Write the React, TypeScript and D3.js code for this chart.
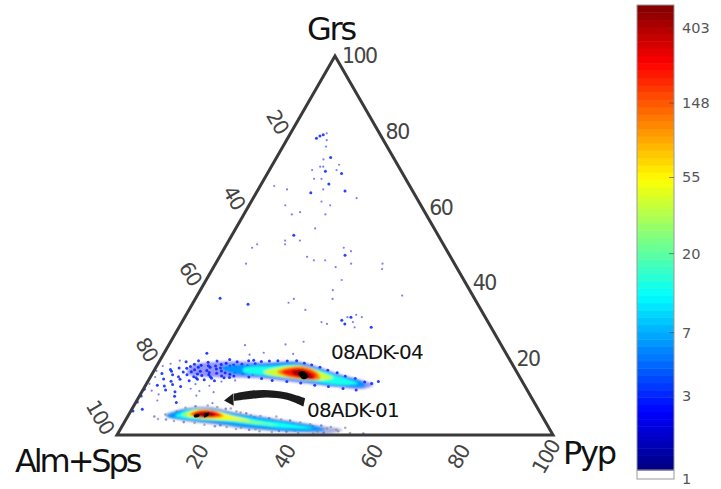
import React from 'react';
import * as d3 from 'd3';

// ternary values are [Pyp, Grs], Alm+Sps is whatever is left
const tickValues = [20, 40, 60, 80, 100];
const colorTicks = [1, 3, 7, 20, 55, 148, 403];

// isolated analyses above the two clouds [pyp, grs, count]
const scatterHigh = [
  [6.6, 78.3, 3], [7.1, 78.9, 3], [7.7, 79.2, 3], [8.3, 79.6, 2], [9.2, 77.8, 2], [9.9, 76.1, 2], [12.4, 73.2, 3], [11.0, 72.7, 2],
  [11.2, 70.8, 2], [11.9, 70.8, 2], [13.0, 69.6, 3], [9.8, 69.9, 2], [15.4, 69.9, 2], [15.3, 71.3, 2], [17.0, 69.0, 3], [11.4, 67.6, 2],
  [13.1, 67.6, 2], [15.5, 66.2, 3], [3.2, 65.7, 2], [6.6, 64.8, 2], [12.5, 63.9, 3], [14.9, 64.8, 2], [20.1, 64.4, 3], [23.7, 62.5, 2],
  [16.1, 61.6, 2], [8.3, 60.6, 2], [18.6, 60.6, 2], [12.6, 58.8, 2], [11.0, 58.2, 2], [18.7, 58.2, 2], [18.2, 54.5, 2], [14.2, 52.7, 3],
  [12.9, 51.3, 2], [13.4, 50.3, 2], [16.3, 51.3, 2], [6.3, 49.4, 2], [7.0, 50.3, 2], [7.0, 45.2, 2], [27.3, 49.4, 2], [29.4, 48.5, 2],
  [28.6, 47.4, 3], [20.1, 47.0, 2], [22.1, 46.1, 2], [24.7, 46.1, 2], [31.1, 45.2, 2], [28.0, 44.3, 2], [38.3, 45.2, 2], [38.9, 43.8, 2],
  [31.1, 40.9, 2], [30.4, 38.2, 2], [31.5, 35.9, 2], [47.0, 36.8, 2], [12.8, 34.5, 3], [21.9, 34.9, 2], [22.6, 35.9, 2], [26.7, 33.0, 2],
  [32.0, 29.8, 2], [33.5, 29.3, 2], [36.4, 30.3, 3], [37.6, 29.3, 3], [37.3, 31.1, 2], [38.1, 31.1, 3], [39.0, 31.7, 2], [40.6, 31.1, 2],
  [39.2, 29.8, 2], [40.3, 28.4, 2], [44.1, 28.4, 3], [5.6, 36.1, 3],
];

// the blue speckle round 08ADK-04, mostly its left tail
const scatterTail = [
  [17.5, 23.7, 2], [26.7, 23.9, 2], [30.5, 24.6, 2], [9.8, 21.6, 3], [19.8, 21.2, 2], [22.8, 21.7, 2], [29.7, 21.4, 2],
  [4.6, 19.6, 2], [6.2, 19.3, 3], [7.8, 18.1, 3], [8.9, 19.6, 3], [10.1, 18.4, 3], [11.3, 19.2, 3], [12.4, 17.9, 3], [13.2, 19.5, 3], [14.6, 18.6, 3],
  [15.9, 19.9, 3], [16.8, 18.2, 3], [17.9, 19.3, 3], [19.3, 18.7, 3], [20.4, 19.6, 3], [9.2, 17.2, 3], [10.7, 16.8, 3], [12.9, 16.5, 3], [14.1, 17.4, 3],
  [15.5, 16.9, 3], [17.3, 17.3, 3], [18.8, 16.6, 3], [20.1, 17.0, 3], [5.4, 17.7, 3], [6.9, 16.6, 3], [8.1, 15.9, 3], [11.6, 15.7, 3], [13.7, 15.4, 3],
  [16.2, 15.6, 3], [18.2, 15.2, 3], [21.5, 19.7, 3], [23.4, 19.4, 3], [25.2, 19.5, 3], [27.1, 19.6, 3], [29.3, 19.5, 3], [31.4, 19.6, 3], [33.5, 18.9, 3],
  [35.4, 18.5, 3], [37.6, 17.9, 3], [39.8, 17.1, 3], [42.3, 16.4, 3], [44.6, 15.5, 3], [47.2, 14.9, 3], [49.8, 14.0, 3], [51.6, 13.6, 3], [22.6, 15.3, 3],
  [25.7, 14.9, 3], [28.4, 14.4, 3], [31.9, 14.1, 3], [35.3, 13.7, 3], [38.8, 13.1, 3], [42.1, 12.8, 3], [45.7, 12.3, 3], [48.9, 11.9, 3], [52.9, 14.1, 3],
  [1.4, 18.2, 2], [2.9, 18.8, 2], [3.6, 17.3, 3], [0.6, 16.9, 2], [2.2, 16.2, 3], [4.8, 15.9, 3], [1.1, 15.3, 2], [3.3, 14.8, 3], [5.3, 14.2, 3], [7.1, 14.7, 3],
  [9.4, 14.3, 3], [10.6, 15.1, 3], [12.7, 14.6, 3], [15.2, 14.3, 3], [16.9, 14.1, 2], [19.9, 14.4, 2], [0.7, 13.5, 2], [2.7, 13.1, 3], [4.4, 12.9, 3], [6.1, 13.3, 3],
  [8.2, 12.8, 3], [11.3, 13.4, 2], [14.7, 13.0, 2], [0.2, 12.1, 3], [2.1, 11.7, 2], [5.2, 11.9, 3], [7.6, 11.4, 3], [10.8, 12.2, 2], [13.1, 11.6, 2], [16.5, 11.3, 2],
  [0.4, 10.3, 3], [4.2, 10.7, 2], [8.1, 10.2, 3], [13.0, 10.4, 2], [0.3, 8.7, 3], [4.7, 9.1, 2], [9.3, 8.6, 3], [17.7, 8.4, 2], [2.4, 6.8, 3], [0.5, 6.3, 3],
  [8.4, 18.7, 3], [9.7, 17.9, 3], [10.4, 16.1, 3], [11.8, 18.3, 3], [12.1, 17.0, 3], [13.5, 18.2, 3], [13.1, 15.9, 3], [14.9, 17.7, 3], [14.7, 16.3, 3], [15.6, 18.9, 3],
  [16.3, 17.6, 3], [16.6, 16.4, 3], [17.5, 18.5, 3], [17.9, 16.0, 3], [18.3, 17.9, 3], [19.0, 15.6, 3], [19.6, 17.8, 3], [20.8, 18.3, 3], [20.7, 16.3, 3], [21.9, 17.4, 3],
  [22.3, 18.8, 3], [23.1, 16.1, 3], [9.9, 15.4, 3], [11.1, 14.7, 3], [7.2, 17.6, 3], [6.4, 15.4, 3], [8.7, 16.7, 3], [4.1, 16.8, 3], [14.2, 15.0, 3], [17.0, 15.1, 3],
];

// the paler speckle round 08ADK-01
const scatterHalo = [
  [6.1, 4.9], [7.3, 4.2], [8.4, 5.4], [9.2, 4.1], [10.6, 6.2], [12.1, 7.2], [14.2, 7.6], [16.9, 7.8], [19.3, 7.4], [21.5, 6.9], [22.6, 7.0], [24.3, 6.2], [26.8, 5.7], [28.1, 5.2],
  [30.4, 5.0], [32.7, 4.4], [34.1, 4.9], [35.6, 4.1], [37.8, 3.8], [40.4, 3.3], [42.9, 2.8], [45.6, 2.5], [48.0, 2.1], [11.2, 3.7], [13.6, 3.4], [16.2, 3.2], [18.7, 2.7], [21.3, 2.3],
  [24.1, 2.1], [26.5, 1.6], [29.6, 1.4], [32.2, 1.0], [35.1, 0.8], [38.4, 0.9], [41.3, 0.5], [44.8, 0.4], [47.1, 0.6], [50.2, 1.0], [53.2, 0.5], [56.3, 0.4], [51.4, 1.9],
  [25.4, 5.9], [29.2, 4.6], [33.8, 3.7], [38.9, 3.1], [43.7, 2.3], [47.3, 1.7], [49.6, 1.4], [22.4, 2.6], [27.5, 1.9], [31.0, 1.5], [36.6, 1.1], [40.2, 1.2], [45.5, 0.9],
];

// density contours of the two analysed samples, lowest count first
const upperRim = [[8.0, 18.2], [14.0, 19.3], [24.9, 19.2], [31.7, 19.4], [36.8, 18.1], [43.2, 16.0], [49.4, 14.3], [52.2, 13.3], [50.5, 12.2], [44.8, 12.6], [38.2, 13.4], [31.7, 14.2], [25.1, 15.0], [18.8, 15.2], [12.4, 15.4], [8.0, 16.2]];
const upperOuter = [[15.0, 17.8], [24.9, 18.7], [31.7, 19.0], [36.8, 17.7], [43.2, 15.6], [49.4, 13.9], [50.5, 12.9], [44.8, 12.9], [38.2, 13.8], [31.7, 14.7], [25.1, 15.6], [18.8, 16.2]];
const upperCyan = [[20.2, 17.6], [26.8, 18.2], [32.7, 18.5], [38.0, 17.1], [43.4, 15.4], [48.5, 13.6], [44.5, 13.2], [38.0, 14.1], [31.4, 15.0], [24.9, 15.8], [20.6, 16.7]];
const upperGreen = [[25.2, 16.7], [28.4, 17.9], [33.6, 18.2], [38.2, 16.7], [42.1, 15.0], [37.8, 14.5], [32.2, 15.0], [27.2, 15.8]];
const upperOrange = [[28.3, 16.7], [30.7, 17.9], [34.6, 17.9], [38.0, 16.3], [39.2, 14.7], [35.4, 14.7], [31.2, 15.4]];
const upperRed = [[29.4, 16.7], [31.6, 17.6], [34.9, 17.3], [37.9, 15.8], [37.7, 14.7], [34.4, 15.1], [31.0, 15.8]];
const upperDark = [[31.7, 16.7], [33.3, 17.3], [36.1, 16.3], [37.5, 15.0], [35.2, 15.0], [32.9, 15.8]];
const upperCore = [[33.4, 16.4], [34.2, 16.9], [36.2, 15.4], [35.4, 14.7], [34.3, 15.4]];

const lowerRim = [[8.4, 5.2], [11.9, 7.0], [17.8, 7.4], [23.8, 6.1], [29.7, 5.1], [37.2, 3.9], [44.7, 2.6], [51.0, 1.4], [48.7, 0.4], [43.1, 0.6], [35.2, 1.0], [28.0, 1.7], [20.5, 2.8], [14.0, 3.6]];
const lowerOuter = [[8.9, 5.0], [11.9, 6.6], [17.8, 7.0], [23.8, 5.7], [29.7, 4.7], [37.2, 3.5], [44.7, 2.2], [47.0, 1.4], [43.1, 1.0], [35.2, 1.4], [28.0, 2.1], [20.5, 3.2], [14.0, 4.0]];
const lowerCyan = [[10.8, 5.0], [13.1, 6.6], [17.9, 6.8], [24.0, 5.3], [30.8, 4.0], [38.2, 2.9], [44.1, 1.8], [38.0, 1.8], [30.7, 2.6], [23.4, 3.5], [17.0, 4.0], [13.0, 4.4]];
const lowerGreen = [[12.2, 5.3], [14.2, 6.6], [18.4, 6.6], [24.2, 5.0], [30.3, 3.5], [36.1, 2.5], [30.6, 2.9], [23.3, 3.8], [16.9, 4.3]];
const lowerYellow = [[13.5, 5.3], [14.6, 6.6], [18.8, 6.5], [23.8, 5.0], [28.6, 3.8], [24.3, 4.0], [18.4, 4.3]];
const lowerOrange = [[14.0, 5.5], [15.7, 6.6], [19.3, 6.3], [21.9, 5.0], [19.1, 4.5], [16.0, 4.7]];
const lowerRed = [[14.5, 5.5], [16.2, 6.4], [19.4, 6.2], [21.1, 5.1], [18.6, 4.7], [15.9, 4.8]];
const lowerDark = [[15.1, 5.5], [16.8, 6.1], [19.2, 5.7], [20.0, 5.0], [17.8, 4.8], [15.8, 5.0]];
const lowerCoreA = [[15.0, 5.3], [16.2, 5.4], [16.4, 4.9], [15.4, 4.7]];
const lowerCoreB = [[17.2, 5.5], [18.2, 5.9], [18.4, 5.2], [17.7, 4.6]];

const arrowTop = [[38.3, 9.7], [33.3, 11.2], [27.7, 11.9], [23.3, 11.4], [21.4, 10.9]];
const arrowBottom = [[22.3, 9.0], [25.8, 9.5], [29.4, 9.9], [34.3, 9.3], [39.0, 7.5]];
const arrowHead = [[21.2, 11.0], [20.0, 9.1], [22.9, 7.7]];

const rims = [upperRim, lowerRim];
const contours: [number[][], number][] = [
  [lowerOuter, 6], [lowerCyan, 12], [lowerGreen, 28], [lowerYellow, 55], [lowerOrange, 120], [lowerRed, 220], [lowerDark, 430],
  [upperOuter, 6], [upperCyan, 13], [upperGreen, 40], [upperOrange, 110], [upperRed, 220], [upperDark, 430],
];
const coreBlobs = [upperCore, lowerCoreA, lowerCoreB];

const W = 721;
const H = 489;
const xPos = d3.scaleLinear().domain([0, 100]).range([117, 553]);
const yPos = d3.scaleLinear().domain([0, 100]).range([435, 56]);
const px = (p: number, g: number) => xPos(p + g / 2);
const py = (g: number) => yPos(g);

const lnMax = 6.3;
const lnMin = 0.12;
const clamp = (v: number) => Math.max(0, Math.min(1, v));
// matplotlib style jet, 64 steps like the colour bar
function jet(t: number) {
  const c = (o: number) => Math.round(clamp(1.5 - Math.abs(4 * t - o)) * 255);
  return `rgb(${c(3)},${c(2)},${c(1)})`;
}
const colorT = d3.scaleLog().domain([Math.exp(lnMin), Math.exp(lnMax)]).range([0, 1]);
const barY = d3.scaleLog().domain([1, Math.exp(lnMax)]).range([479, 5]);
const bands = d3.range(64);

const blob = d3.line<number[]>().x(d => px(d[0], d[1])).y(d => py(d[1])).curve(d3.curveCatmullRomClosed.alpha(0.5));
const outline = d3.line<number[]>().x(d => px(d[0], d[1])).y(d => py(d[1])).curve(d3.curveLinearClosed);
const smooth = d3.line<number[]>().x(d => px(d[0], d[1])).y(d => py(d[1])).curve(d3.curveCatmullRom.alpha(0.5));

const tickFont = { fontFamily: '"DejaVu Sans"', fontSize: 20.5, letterSpacing: -1.5, fill: '#444' };
const titleFont = { fontFamily: '"DejaVu Sans"', fontSize: 32, letterSpacing: -2.2, fill: '#111' };
const noteFont = { fontFamily: '"DejaVu Sans"', fontSize: 20, letterSpacing: -0.8, fill: '#111' };

function Dots({ items }: { items: number[][] }) {
  return (
    <g>
      {items.map((d, i) => (
        <circle key={i} cx={px(d[0], d[1])} cy={py(d[1])} r={d[2] > 2 ? 1.5 : 1.1}
                fill={jet(colorT(d[2]))} opacity={d[2] > 2 ? 0.85 : 0.5} />
      ))}
    </g>
  );
}

export default function App() {
  const triangle = [[0, 0], [100, 0], [0, 100]];
  const barHeight = barY(Math.exp(lnMin)) - 5;
  const arrowPath = `${smooth(arrowTop)}L${(smooth(arrowBottom) || '').slice(1)}Z`;
  return (
    <svg width={W} height={H} style={{ position: 'absolute', left: 0, top: 0, background: '#fff' }}>
      <defs>
        <filter id="soft" x="-10%" y="-50%" width="120%" height="200%"><feGaussianBlur stdDeviation="1.2" /></filter>
        <filter id="tiny" x="-20%" y="-20%" width="140%" height="140%"><feGaussianBlur stdDeviation="0.4" /></filter>
      </defs>

      <g filter="url(#soft)">
        {rims.map((pts, i) => <path key={i} d={blob(pts) || ''} fill={i === 0 ? '#2a2aff' : '#5a64c8'} opacity={0.5} />)}
      </g>
      <g filter="url(#tiny)">
        <Dots items={scatterHigh} />
        <Dots items={scatterTail} />
        {scatterHalo.map((d, i) => (
          <circle key={i} cx={px(d[0], d[1])} cy={py(d[1])} r={1.3} fill={i % 3 === 0 ? '#5a64c8' : '#8d8d9d'} opacity={0.7} />
        ))}
      </g>
      <g filter="url(#soft)">
        {contours.map(([pts, count], i) => (
          <path key={i} d={blob(pts) || ''} fill={jet(colorT(count))} />
        ))}
      </g>
      <g filter="url(#tiny)">
        {coreBlobs.map((pts, i) => <path key={i} d={blob(pts) || ''} fill="#000" />)}
        <path d={arrowPath} fill="#1c1c1c" />
        <path d={outline(arrowHead) || ''} fill="#1c1c1c" />
      </g>

      <path d={outline(triangle) || ''} fill="none" stroke="#3a3a3a" strokeWidth={3} strokeLinejoin="miter" />

      {/* tick labels, one set per edge */}
      {tickValues.map(v => (
        <text key={'r' + v} x={px(100 - v, v) + 7} y={py(v)} dominantBaseline="central" {...tickFont}>{v}</text>
      ))}
      {tickValues.map(v => (
        <text key={'l' + v} textAnchor="middle" dominantBaseline="central" {...tickFont}
              transform={`translate(${px(0, 100 - v) - (v === 100 ? 17 : 14)},${py(100 - v) - (v === 100 ? 18 : 10)}) rotate(60)`}>{v}</text>
      ))}
      {tickValues.map(v => (
        <text key={'b' + v} textAnchor="middle" dominantBaseline="central" {...tickFont}
              transform={`translate(${px(v, 0) - 7},457) rotate(-60)`}>{v}</text>
      ))}

      <text x={331} y={40} textAnchor="middle" {...titleFont}>Grs</text>
      <text x={15} y={472} {...titleFont} letterSpacing={-3.1}>Alm+Sps</text>
      <text x={563} y={464} {...titleFont}>Pyp</text>
      <text x={331} y={359} {...noteFont}>08ADK-04</text>
      <text x={307} y={417} {...noteFont}>08ADK-01</text>

      {/* colour bar */}
      {bands.map(i => (
        <rect key={i} x={637} width={37} y={5 + barHeight * (63 - i) / 64} height={barHeight / 64 + 0.5} fill={jet((i + 0.5) / 64)} />
      ))}
      <rect x={637} y={5} width={37} height={474} fill="none" stroke="#999" strokeWidth={1} />
      <line x1={637} x2={674} y1={5 + barHeight} y2={5 + barHeight} stroke="#999" />
      {colorTicks.map(v => (
        <g key={v}>
          {v > 1 && <line x1={669} x2={674} y1={barY(v)} y2={barY(v)} stroke="#444" opacity={0.6} />}
          <text x={682} y={barY(v)} dominantBaseline="central" fontFamily='"DejaVu Sans"' fontSize={14.5} fill="#555">{v}</text>
        </g>
      ))}
    </svg>
  );
}
